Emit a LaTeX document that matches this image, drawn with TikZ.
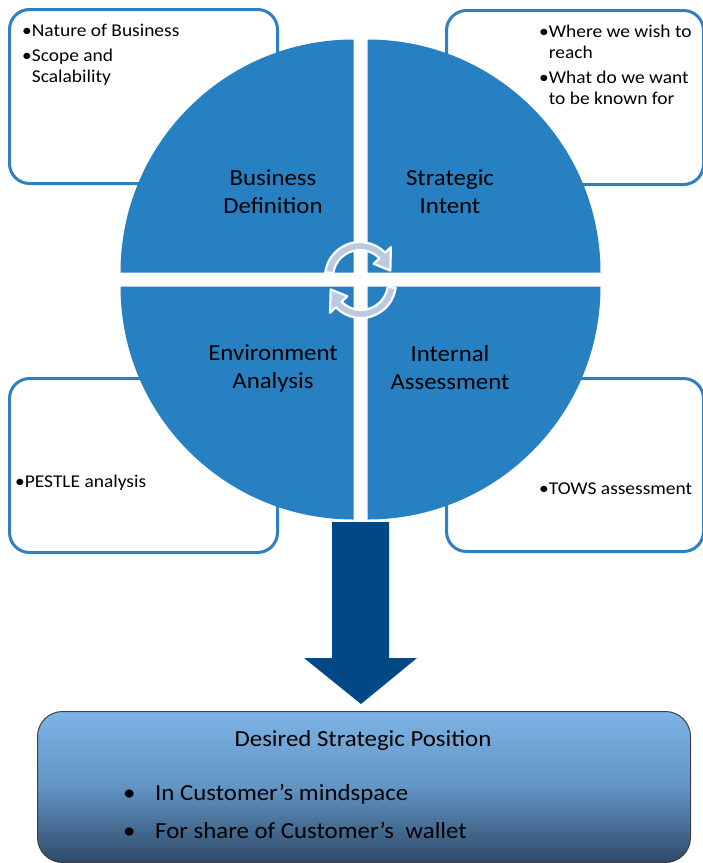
\documentclass[tikz,border=0pt]{standalone}
\usepackage{fontspec}
\setmainfont[FakeStretch=1.08]{Carlito}
\usepackage{tikz}
\usetikzlibrary{arrows.meta,positioning}
\definecolor{quadblue}{RGB}{39,128,193}
\definecolor{boxblue}{RGB}{47,128,195}
\definecolor{downblue}{RGB}{0,73,133}
\definecolor{cyclefill}{RGB}{186,202,226}
\definecolor{postop}{RGB}{125,179,229}
\definecolor{posmid}{RGB}{98,148,196}
\definecolor{posbot}{RGB}{46,74,104}

\begin{document}
\begin{tikzpicture}[
    x=1pt, y=1pt,
    infobox/.style={draw=boxblue, line width=3pt, rounded corners=20pt, fill=white, anchor=north west, inner sep=0pt},
    infotext/.style={anchor=north west, inner sep=0pt, align=left, font=\fontsize{18}{21}\selectfont},
    quad/.style={fill=quadblue},
    quadlabel/.style={align=center, inner sep=0pt, font=\fontsize{23}{28}\selectfont},
    postext/.style={inner sep=0pt, font=\fontsize{23}{26}\selectfont},
    cyclearrow/.pic={
        \filldraw[fill=cyclefill, draw=white, line width=2.2pt, line join=round]
            (172:35) arc[start angle=172, end angle=44, radius=35]
            -- (44:43) -- (12:31) -- (44:19) -- (44:27)
            arc[start angle=44, end angle=172, radius=27] -- cycle;
    }
]
    \useasboundingbox (0,0) rectangle (703,-863);

    % outer boxes with the bullet notes
    \node[infobox, minimum width=268pt, minimum height=174pt] (bizbox) at (8,-8) {};
    \node[infobox, minimum width=257pt, minimum height=174pt] (intentbox) at (445,-9) {};
    \node[infobox, minimum width=268pt, minimum height=174pt] (envbox) at (8,-377) {};
    \node[infobox, minimum width=257pt, minimum height=173pt] (assessbox) at (445,-377) {};

    \node[infotext] (biznotes) at (22,-23.5) {•Nature of Business\\[4pt]•Scope and\\\phantom{•}Scalability};
    \node[infotext] (intentnotes) at (539,-24.5) {•Where we wish to\\\phantom{•}reach\\[4pt]•What do we want\\\phantom{•}to be known for};
    \node[infotext] (envnotes) at (15,-475) {•PESTLE analysis};
    \node[infotext] (assessnotes) at (539,-483) {•TOWS assessment};

    % four quarters of the disc
    \fill[quad] (353.5,-272.5) -- ++(-233,0) arc[start angle=180, end angle=90, radius=233] -- cycle;
    \fill[quad] (367.5,-272.5) -- ++(0,233) arc[start angle=90, end angle=0, radius=233] -- cycle;
    \fill[quad] (353.5,-286.5) -- ++(0,-233) arc[start angle=270, end angle=180, radius=233] -- cycle;
    \fill[quad] (367.5,-286.5) -- ++(233,0) arc[start angle=0, end angle=-90, radius=233] -- cycle;

    \node[quadlabel] (bizdef) at (273,-192) {Business\\Definition};
    \node[quadlabel] (intent) at (450,-192) {Strategic\\Intent};
    \node[quadlabel] (envan) at (273,-368) {Environment\\Analysis};
    \node[quadlabel] (assess) at (450,-368) {Internal\\Assessment};

    % cycle arrows in the middle
    \pic at (360,-277) {cyclearrow};
    \pic[rotate=180] at (361,-283) {cyclearrow};

    % block arrow down to the target position
    \coordinate (shaftl) at (332,-522);
    \coordinate (shaftr) at (389,-522);
    \coordinate (tip) at (361,-704);
    \fill[downblue] (shaftl) -- (shaftr) -- (389,-658) -- (417,-658) -- (tip)
        -- (304,-658) -- (332,-658) -- cycle;

    % desired position box
    \node[draw=black!75, line width=1pt, rounded corners=25pt, anchor=north west,
          minimum width=653pt, minimum height=151pt, inner sep=0pt,
          top color=postop, bottom color=posbot, middle color=posmid] (posbox) at (37,-711) {};
    \node[postext] (postitle) at (363,-740) {Desired Strategic Position};
    \node[postext, anchor=west] (pos1) at (123,-794) {\makebox[32pt][l]{•}In Customer’s mindspace};
    \node[postext, anchor=west] (pos2) at (123,-830) {\makebox[32pt][l]{•}For share of Customer’s\ \ wallet};
\end{tikzpicture}
\end{document}
